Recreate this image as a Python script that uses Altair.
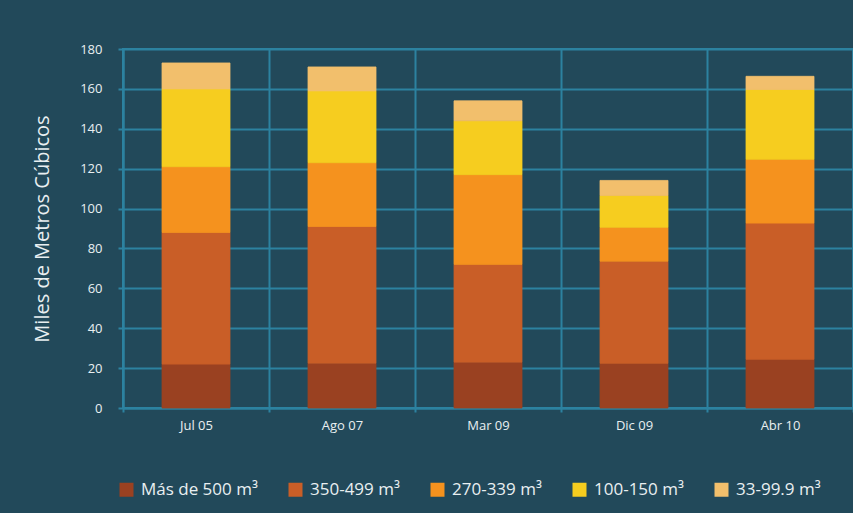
import altair as alt
import pandas as pd

periods = ["Jul 05", "Ago 07", "Mar 09", "Dic 09", "Abr 10"]
series = ["Más de 500 m³", "350-499 m³", "270-339 m³", "100-150 m³", "33-99.9 m³"]
mas500 = [22, 22.5, 23, 22.4, 24.4]
r350_499 = [66, 68.5, 49, 51.2, 68.3]
r270_339 = [33, 32, 45, 17, 32]
r100_150 = [39, 36, 27, 16, 35]
r33_99 = [13, 12, 10, 7.5, 6.6]
colors = ["#9a4121", "#c95e27", "#f5921e", "#f6cd1f", "#f2bf6c"]
y_ticks = [0, 20, 40, 60, 80, 100, 120, 140, 160, 180]

rows = []
for si, (name, vals) in enumerate(zip(series, [mas500, r350_499, r270_339, r100_150, r33_99])):
    for p, v in zip(periods, vals):
        rows.append({"periodo": p, "rango": name, "valor": v, "orden": si})
df = pd.DataFrame(rows)

BG = "#22495a"
GRID = "#2c82a0"
TXT = "#e9eff1"
FONT = "Open Sans"

chart = alt.Chart(df).mark_bar(width=68, strokeWidth=0.8).encode(
    x=alt.X("periodo:N", sort=periods, title=None,
            scale=alt.Scale(paddingInner=0, paddingOuter=0),
            axis=alt.Axis(tickBand="extent", grid=True, gridColor=GRID, gridWidth=2,
                          domainColor=GRID, domainWidth=2, tickColor=GRID, tickWidth=2,
                          tickSize=4, labelPadding=7, labelAngle=0, labelColor=TXT,
                          labelFontSize=13, labelFont=FONT)),
    y=alt.Y("valor:Q", stack="zero", title="Miles de Metros Cúbicos",
            scale=alt.Scale(domain=[0, 180], nice=False),
            axis=alt.Axis(values=y_ticks, grid=True, gridColor=GRID, gridWidth=2,
                          domainColor=GRID, domainWidth=2, tickColor=GRID, tickWidth=2,
                          tickSize=5, labelPadding=16, labelColor=TXT, labelFontSize=13,
                          labelFont=FONT, titleColor=TXT, titleFontSize=20,
                          titleFont=FONT, titleFontWeight="normal",
                          titlePadding=27)),
    color=alt.Color("rango:N", sort=series,
                    scale=alt.Scale(domain=series, range=colors),
                    legend=alt.Legend(title=None, orient="none", direction="horizontal",
                                      legendX=-5, legendY=432, symbolType="square",
                                      symbolSize=196, symbolStrokeWidth=0, symbolOpacity=1,
                                      labelColor=TXT, labelFontSize=17, labelFont=FONT,
                                      labelOffset=6, columnPadding=29)),
    stroke=alt.Stroke("rango:N", sort=series,
                      scale=alt.Scale(domain=series, range=colors), legend=None),
    order=alt.Order("orden:Q", sort="ascending"),
).properties(
    width=730, height=359, background=BG,
    padding={"left": 123, "top": 49, "right": 0, "bottom": 105},
    autosize=alt.AutoSizeParams(type="none"),
).configure_view(stroke=GRID, strokeWidth=2)

chart.save("out.html", embed_options={"renderer": "svg", "actions": False})
